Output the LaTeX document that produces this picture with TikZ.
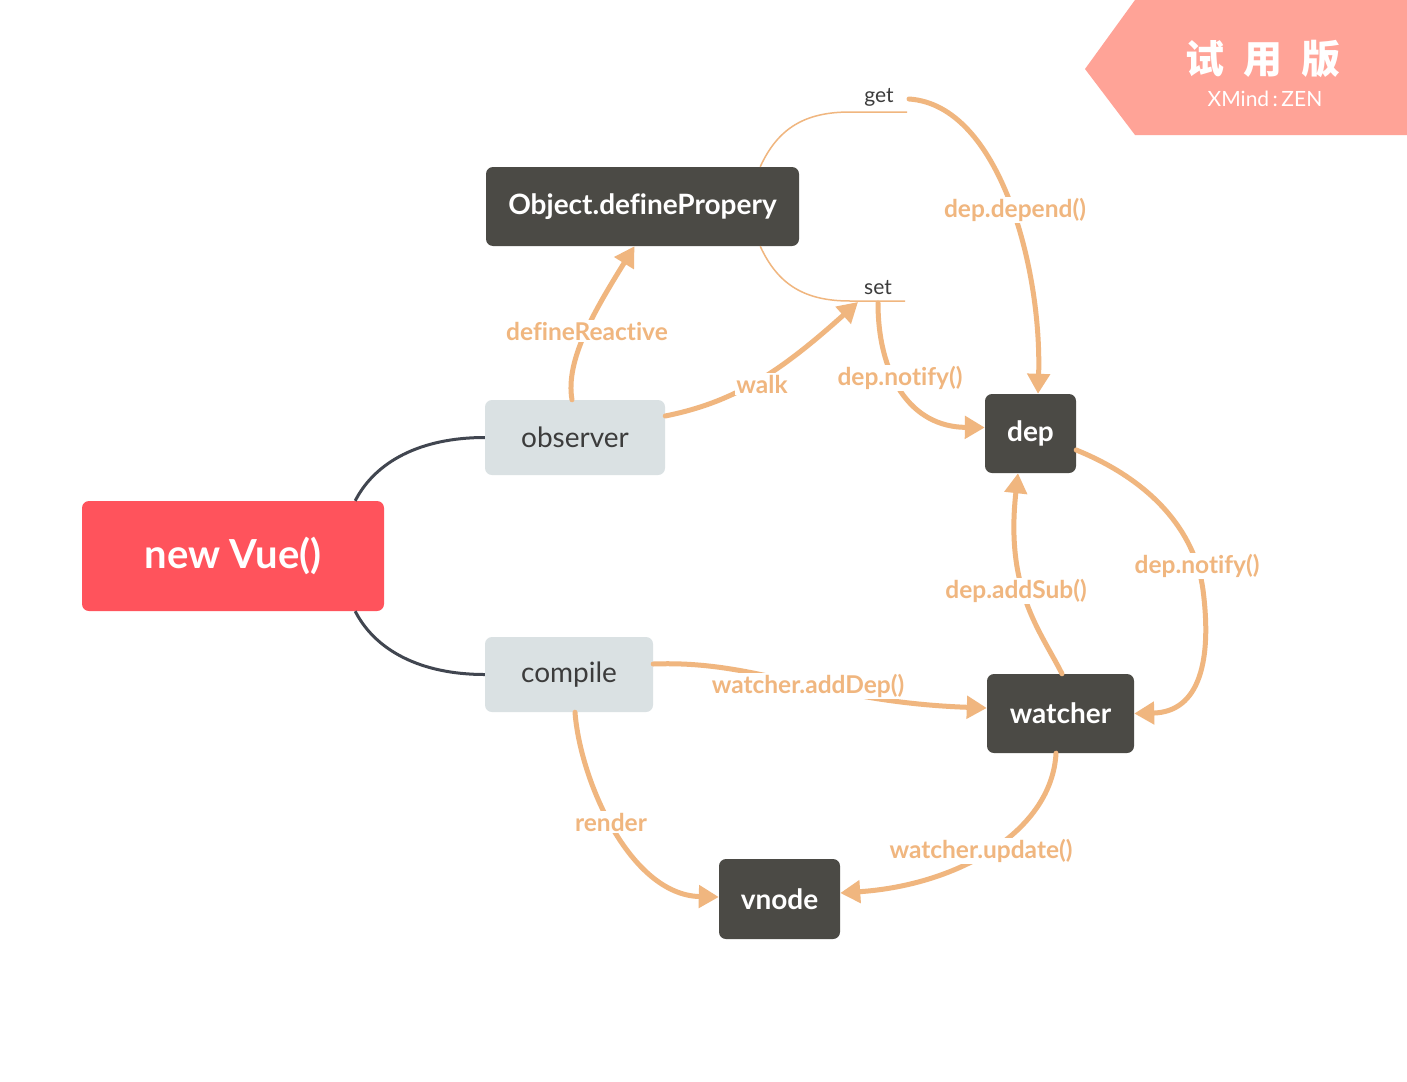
\documentclass[tikz,border=0pt]{standalone}
\usepackage{fontspec}
\setmainfont{Lato}[Ligatures=CommonOff]
\newfontfamily\cjk{Noto Sans CJK SC}
\usetikzlibrary{arrows.meta}
\definecolor{vuered}{HTML}{FF535C}
\definecolor{darkbox}{HTML}{4B4A45}
\definecolor{lightbox}{HTML}{DAE1E3}
\definecolor{flow}{HTML}{F0B67F}
\definecolor{treeline}{HTML}{414650}
\definecolor{badge}{HTML}{FFA397}
\definecolor{txt}{HTML}{3C3C3C}
\begin{document}
\begin{tikzpicture}[x=1pt,y=-1pt,
  box/.style={rounded corners=7pt, inner sep=0pt, align=center},
  rootbox/.style={box, fill=vuered, text=white, font=\fontsize{40}{44}\selectfont\bfseries},
  lightnode/.style={box, fill=lightbox, text=txt, font=\fontsize{28}{32}\selectfont},
  darknode/.style={box, fill=darkbox, text=white, font=\fontsize{28}{32}\selectfont\bfseries},
  tree/.style={draw=treeline, line width=3pt},
  flowarrow/.style={draw=flow, line width=5pt, line cap=round, -{Triangle[length=20pt,width=22pt]}},
  thinflow/.style={draw=flow, line width=1.5pt},
  lbl/.style={fill=white, text=flow, inner sep=1.5pt, font=\fontsize{24.5}{28}\selectfont\bfseries},
  smalltxt/.style={text=txt, inner sep=0pt, font=\fontsize{21}{24}\selectfont},
]
\useasboundingbox (0,0) rectangle (1407,1081);
\fill[white] (0,0) rectangle (1407,1081);

% badge
\fill[badge] (1085,69) -- (1135,0) -- (1407,0) -- (1407,135) -- (1135,135) -- cycle;
\node[text=white, font=\cjk\bfseries\fontsize{39}{40}\selectfont, inner sep=0pt] (badgetitle) at (1263,59) {试\hspace{19pt}用\hspace{19pt}版};
\node[text=white, font=\fontsize{21}{24}\selectfont, inner sep=0pt] (badgesub) at (1265,99) {XMind\,:\,ZEN};

% nodes
\node[rootbox, minimum width=302pt, minimum height=110pt] (vue) at (233,556) {new Vue()};
\node[lightnode, minimum width=180pt, minimum height=75pt] (obs) at (575,437.5) {observer};
\node[lightnode, minimum width=168pt, minimum height=75pt] (comp) at (569,674.5) {compile};
\node[darknode, minimum width=313pt, minimum height=79pt] (obj) at (642.5,206.5) {Object.definePropery};
\node[darknode, minimum width=91pt, minimum height=79pt] (dep) at (1030.5,433.5) {dep};
\node[darknode, minimum width=147pt, minimum height=79pt] (wat) at (1060.5,713.5) {watcher};
\node[darknode, minimum width=121pt, minimum height=80pt] (vnode) at (779.5,899) {vnode};

% tree links
\draw[tree] ([xshift=-29pt]vue.north east) .. controls (375,462) and (420,437.5) .. (obs.west);
\draw[tree] ([xshift=-29pt]vue.south east) .. controls (375,650) and (420,674.5) .. (comp.west);

% get / set
\coordinate (getend) at (907,112);
\coordinate (setend) at (905,301);
\coordinate (getR) at (909,99);
\coordinate (setpt) at (858,302);
\coordinate (setdown) at (878,303);
\draw[thinflow] ([xshift=-39pt]obj.north east) .. controls (778,128) and (805,112) .. (850,112) -- (getend);
\draw[thinflow] ([xshift=-39pt]obj.south east) .. controls (778,285) and (805,301) .. (850,301) -- (setend);
\node[smalltxt] (getlbl) at (879,97) {get};
\node[smalltxt] (setlbl) at (878,288) {set};

% flow arrows
\draw[flowarrow] ([xshift=-3pt]obs.north) .. controls (565,360) and (595,310) .. ([xshift=-8pt]obj.south);
\node[lbl] (l1) at (587,331) {defineReactive};

\draw[flowarrow] ([yshift=21.5pt]obs.east) .. controls (735,402) and (780,372) .. (setpt);
\node[lbl] (l2) at (762,384) {walk};

\draw[flowarrow] (getR) .. controls (1000,105) and (1042,270) .. ([xshift=7.5pt]dep.north);
\node[lbl] (l3) at (1015,210) {dep.depend()};

\draw[flowarrow] (setdown) .. controls (878,375) and (910,427) .. ([yshift=6pt]dep.west);
\node[lbl] (l4) at (900,378) {dep.notify()};

\draw[flowarrow] ([yshift=-16.5pt]dep.east) .. controls (1150,480) and (1195,530) .. (1203,590)
   .. controls (1212,660) and (1200,712) .. (wat.east);
\node[lbl] (l5) at (1197,566) {dep.notify()};

\draw[flowarrow] ([xshift=1.5pt]wat.north) .. controls (1040,630) and (1005,590) .. ([xshift=-12.5pt]dep.south);
\node[lbl] (l6) at (1016,591) {dep.addSub()};

\draw[flowarrow] ([yshift=10.5pt]comp.east) .. controls (760,660) and (820,702) .. ([yshift=5.5pt]wat.west);
\node[lbl] (l7) at (808,686) {watcher.addDep()};

\draw[flowarrow] ([xshift=6pt]comp.south) .. controls (580,780) and (630,895) .. ([yshift=2pt]vnode.west);
\node[lbl] (l8) at (611,822) {render};

\draw[flowarrow] ([xshift=-4.5pt]wat.south) .. controls (1052,830) and (960,885) .. ([yshift=6pt]vnode.east);
\node[lbl] (l9) at (981,851) {watcher.update()};
\end{tikzpicture}
\end{document}
